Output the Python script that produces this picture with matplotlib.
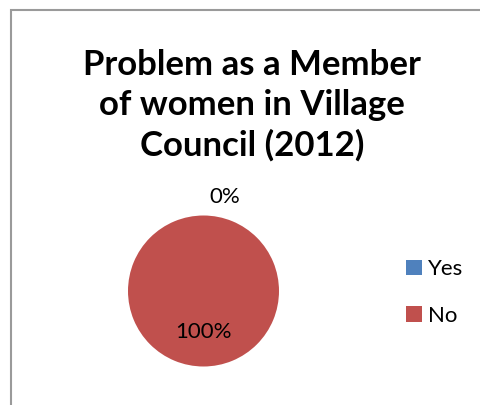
import matplotlib.pyplot as plt
from matplotlib.patches import Rectangle

# survey answers
labels = ['Yes', 'No']
counts = [0, 100]
colors = ['#4F81BD', '#C0504D']

W, H = 480, 405
fig = plt.figure(figsize=(W / 100, H / 100), dpi=100)

# chart frame (runs past the right and bottom edges)
fig.patches.append(Rectangle((11 / W, -0.1), 1.2, (H - 10) / H + 0.1,
                             transform=fig.transFigure, fill=False,
                             edgecolor='#9A9A9A', linewidth=1.5))

fig.text(252 / W, 1 - 105 / H,
         'Problem as a Member\nof women in Village\nCouncil (2012)',
         ha='center', va='center', fontsize=25, fontweight='bold',
         family='Lato', linespacing=1.3)

cx, cy, r = 203.5, H - 291, 75.5
ax = fig.add_axes([(cx - r) / W, (cy - r) / H, 2 * r / W, 2 * r / H])
wedges, texts, autotexts = ax.pie(counts, colors=colors, startangle=90,
                                  counterclock=False, autopct='%1.0f%%',
                                  pctdistance=0.54,
                                  textprops={'fontsize': 16, 'family': 'Lato'})
ax.set_xlim(-1, 1)
ax.set_ylim(-1, 1)
ax.set_aspect('equal')

# the empty slice gets its label just above the pie
autotexts[0].set_position((0.28, 1.25))

ax.legend(wedges, labels, loc='center left', bbox_to_anchor=(1.71, 0.49),
          frameon=False, prop={'family': 'Lato', 'size': 16},
          handlelength=0.7, handleheight=0.7, handletextpad=0.3,
          labelspacing=1.2)

fig.savefig('out.png', dpi=100)
